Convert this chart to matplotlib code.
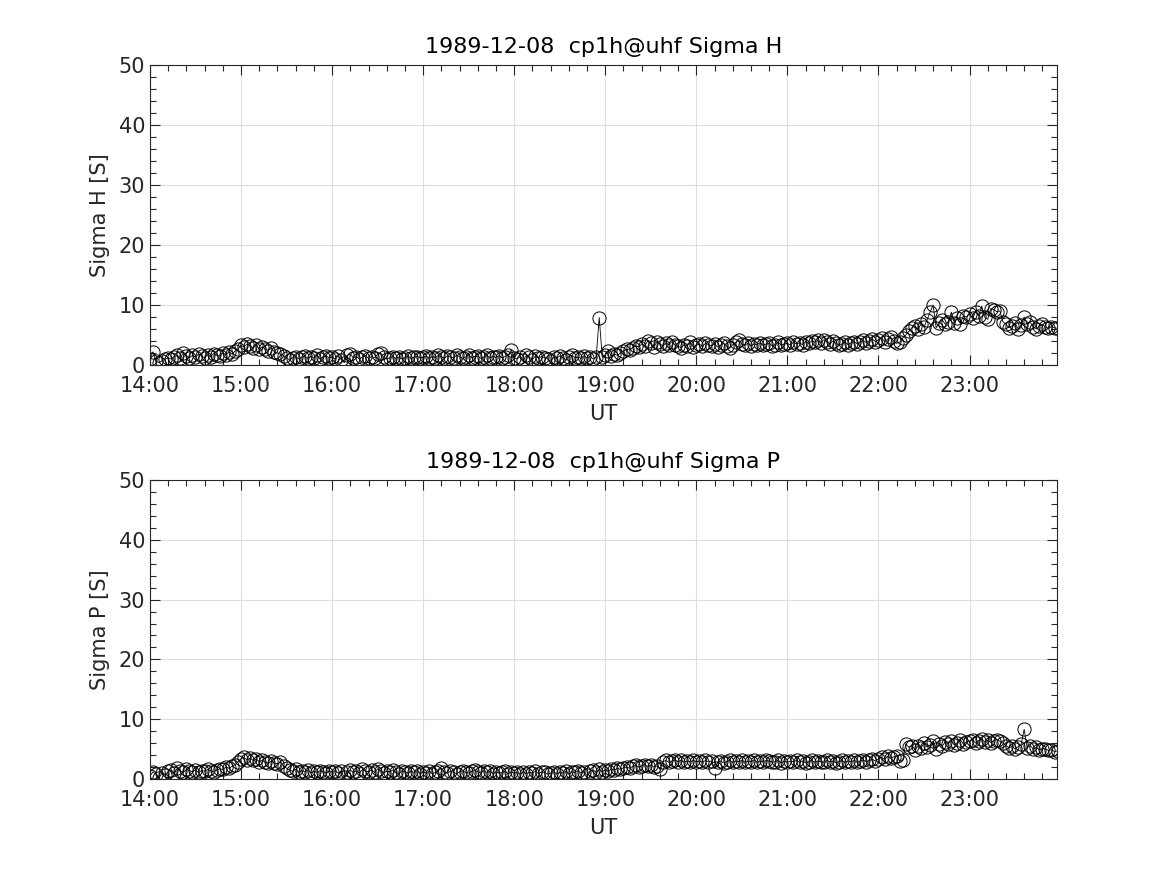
import matplotlib
matplotlib.use("Agg")
import matplotlib.pyplot as plt
from matplotlib.ticker import MultipleLocator, FuncFormatter
import numpy as np

# Time axis: 2-minute samples from 14:00 to 23:58 UT (hours)
start_hour = 14
step_min = 2

sigma_h = [
    # 14:00
    1.0, 2.2, 0.6, 0.4, 0.7, 1.0, 1.2, 1.0, 1.4, 1.6, 1.2, 2.0, 1.5, 1.2, 1.6,
    1.3, 1.8, 1.5, 1.2, 1.7, 1.4, 1.9, 1.6, 1.5, 2.0, 1.7, 2.2, 1.8, 2.3, 2.6,
    # 15:00
    3.3, 3.0, 3.5, 3.2, 2.8, 3.4, 2.6, 3.0, 2.7, 2.4, 2.8, 2.2, 2.0, 1.8, 1.5,
    1.2, 0.8, 1.2, 1.4, 1.0, 1.3, 1.5, 1.1, 1.4, 1.2, 1.6, 1.0, 1.3, 1.5, 1.2,
    # 16:00
    1.3, 1.0, 1.5, 0.9, 0.4, 1.6, 1.8, 1.2, 1.4, 1.0, 1.3, 1.5, 1.1, 1.4, 1.2,
    1.8, 2.0, 1.3, 1.0, 1.2, 1.4, 1.1, 1.3, 1.0, 1.2, 1.5, 1.1, 1.3, 1.4, 1.2,
    # 17:00
    1.3, 1.5, 1.1, 1.4, 1.2, 1.6, 1.3, 1.1, 1.5, 1.3, 1.2, 1.6, 1.4, 1.1, 1.3,
    1.7, 1.2, 1.4, 1.5, 1.1, 1.3, 1.6, 1.2, 1.4, 1.3, 1.5, 1.2, 1.4, 1.6, 2.5,
    # 18:00
    1.2, 1.0, 1.4, 0.8, 1.6, 1.3, 0.9, 1.5, 1.1, 1.4, 1.2, 1.0, 0.6, 1.3, 1.1,
    1.5, 1.2, 0.9, 1.4, 1.6, 1.2, 1.3, 1.1, 1.5, 1.2, 1.4, 1.0, 1.3, 7.9, 1.3,
    # 19:00
    1.6, 2.4, 1.5, 1.8, 1.6, 2.0, 2.3, 2.6, 2.5, 2.9, 3.2, 3.0, 3.5, 3.2, 4.0,
    3.6, 3.0, 3.8, 3.5, 3.2, 3.6, 3.4, 3.9, 3.3, 3.1, 2.9, 3.4, 3.2, 3.8, 3.0,
    # 20:00
    3.3, 3.5, 3.1, 3.6, 3.4, 3.2, 3.5, 3.0, 3.3, 3.6, 3.2, 2.8, 3.4, 3.8, 4.1,
    3.5, 3.3, 3.6, 3.2, 3.5, 3.4, 3.7, 3.3, 3.5, 3.6, 3.2, 3.4, 3.8, 3.3, 3.5,
    # 21:00
    3.6, 3.3, 3.8, 3.5, 3.7, 3.4, 3.9, 3.6, 4.0, 3.8, 4.1, 3.7, 4.2, 3.9, 3.5,
    4.0, 3.6, 3.3, 3.5, 3.8, 3.4, 3.7, 3.9, 3.5, 3.8, 4.1, 3.7, 4.0, 4.3, 3.9,
    # 22:00
    4.2, 4.5, 3.9, 4.3, 4.6, 4.0, 3.6, 3.8, 4.5, 5.0, 5.6, 6.2, 6.5, 6.0, 6.8,
    6.3, 7.5, 8.8, 10.0, 6.2, 7.0, 7.5, 6.8, 7.2, 8.8, 7.0, 7.8, 6.9, 8.2, 8.0,
    # 23:00
    8.5, 7.8, 8.9, 8.2, 9.8, 8.0, 7.6, 9.4, 9.2, 8.9, 9.0, 7.2, 6.8, 6.2, 6.5,
    7.0, 6.0, 6.6, 8.0, 6.8, 7.1, 6.4, 6.0, 6.5, 6.8, 6.3, 6.1, 6.4, 6.2, 6.1,
]

sigma_p = [
    # 14:00
    0.5, 1.2, 0.8, 0.2, 1.0, 0.6, 1.3, 1.5, 1.0, 1.8, 1.3, 1.1, 1.6, 1.4, 1.2,
    1.5, 1.1, 1.4, 1.3, 1.6, 1.4, 1.2, 1.5, 1.7, 1.6, 2.0, 1.8, 2.1, 2.4, 2.9,
    # 15:00
    3.4, 3.6, 3.2, 3.5, 3.1, 3.3, 2.9, 3.1, 2.8, 2.6, 3.0, 2.7, 2.5, 2.8, 2.2,
    1.8, 1.5, 1.3, 1.6, 1.1, 1.4, 1.2, 1.5, 1.0, 1.3, 1.1, 1.4, 1.2, 1.0, 1.3,
    # 16:00
    1.2, 1.4, 1.0, 1.3, 0.3, 1.2, 1.5, 1.1, 1.4, 1.0, 1.6, 1.3, 1.2, 1.5, 1.1,
    1.7, 1.4, 1.0, 1.3, 1.2, 1.5, 1.1, 0.8, 1.4, 1.2, 1.0, 1.3, 1.1, 1.4, 0.9,
    # 17:00
    1.2, 1.0, 1.3, 0.9, 1.1, 1.4, 1.8, 1.2, 1.0, 1.3, 1.1, 0.9, 1.2, 1.4, 1.1,
    1.0, 1.3, 1.5, 1.2, 1.0, 1.4, 1.1, 1.3, 0.9, 1.2, 1.0, 1.1, 1.3, 0.9, 1.2,
    # 18:00
    1.0, 1.1, 0.8, 1.2, 0.9, 1.1, 1.0, 1.3, 0.9, 1.2, 1.1, 0.8, 1.0, 1.2, 0.9,
    1.1, 1.0, 1.3, 0.8, 1.2, 1.1, 1.4, 1.0, 1.2, 0.6, 1.3, 1.5, 1.1, 1.6, 1.2,
    # 19:00
    1.5, 1.3, 1.7, 1.5, 1.8, 1.6, 1.9, 2.0, 1.8, 2.1, 2.3, 2.0, 2.2, 2.4, 2.1,
    2.3, 2.0, 2.2, 1.6, 2.9, 3.1, 2.8, 3.0, 3.2, 2.9, 3.1, 2.8, 3.0, 2.9, 3.1,
    # 20:00
    2.9, 3.0, 2.8, 3.1, 2.9, 3.0, 1.8, 2.8, 3.0, 2.7, 2.9, 3.1, 2.8, 3.0, 2.9,
    3.1, 2.8, 3.0, 2.9, 3.2, 2.8, 3.0, 2.9, 3.1, 3.0, 2.8, 2.9, 3.1, 2.7, 3.0,
    # 21:00
    2.8, 3.0, 2.9, 3.1, 2.8, 3.0, 2.7, 2.9, 3.1, 2.8, 3.0, 2.9, 2.8, 3.1, 2.9,
    3.0, 2.7, 2.9, 3.1, 2.8, 3.0, 2.9, 3.1, 2.8, 3.0, 3.2, 2.9, 3.1, 3.3, 3.0,
    # 22:00
    3.4, 3.6, 3.3, 3.8, 3.5, 3.7, 3.9, 3.0, 3.2, 5.9, 5.3, 5.6, 4.9, 5.5, 5.2,
    6.0, 5.4, 5.7, 6.3, 5.1, 5.8, 5.5, 6.2, 5.9, 6.4, 5.7, 6.0, 6.6, 5.8, 6.2,
    # 23:00
    6.3, 6.6, 6.0, 6.4, 6.7, 6.2, 6.5, 6.1, 6.4, 6.6, 6.3, 6.0, 5.6, 5.2, 5.5,
    5.0, 5.4, 5.8, 8.3, 5.2, 5.6, 5.0, 5.3, 4.9, 5.1, 5.0, 4.8, 4.9, 4.6, 4.7,
]

titles = ["1989-12-08  cp1h@uhf Sigma H", "1989-12-08  cp1h@uhf Sigma P"]
ylabels = ["Sigma H [S]", "Sigma P [S]"]
xlabel = "UT"
hour_ticks = list(range(14, 24))

t_hours = start_hour + np.arange(len(sigma_h)) * step_min / 60.0

txt = (0.15, 0.15, 0.15)
plt.rcParams["font.family"] = ["DejaVu Sans"]
plt.rcParams["font.size"] = 14

fig = plt.figure(figsize=(11.67, 8.75), dpi=100)
positions = [
    [0.1285, 0.5829, 0.7772, 0.3428],
    [0.1285, 0.1097, 0.7772, 0.3417],
]

for pos, series, title, ylab in zip(positions, [sigma_h, sigma_p], titles, ylabels):
    ax = fig.add_axes(pos)
    ax.plot(t_hours, series, color="black", linewidth=0.6, marker="o",
            markersize=9.5, markerfacecolor="none", markeredgecolor="black",
            markeredgewidth=0.7)
    ax.set_xlim(14, 23.96)
    ax.set_ylim(0, 50)
    ax.set_xticks(hour_ticks)
    ax.xaxis.set_major_formatter(FuncFormatter(lambda v, p: f"{int(round(v)):02d}:00"))
    ax.xaxis.set_minor_locator(MultipleLocator(0.2))
    ax.yaxis.set_major_locator(MultipleLocator(10))
    ax.yaxis.set_minor_locator(MultipleLocator(2))
    ax.tick_params(which="both", direction="in", top=True, right=True,
                   colors=txt, labelsize=15, width=0.8)
    ax.tick_params(which="major", length=7)
    ax.tick_params(which="minor", length=4)
    ax.tick_params(axis="x", which="major", pad=8)
    ax.grid(True, which="major", color=(0.87, 0.87, 0.87), linewidth=0.8)
    ax.set_axisbelow(True)
    for s in ax.spines.values():
        s.set_color(txt)
        s.set_linewidth(0.8)
    ax.set_title(title, fontsize=16, color="black", pad=9)
    ax.set_ylabel(ylab, fontsize=15, color=txt, labelpad=6)
    ax.set_xlabel(xlabel, fontsize=15, color=txt, labelpad=6)

fig.savefig("out.png", dpi=100)
